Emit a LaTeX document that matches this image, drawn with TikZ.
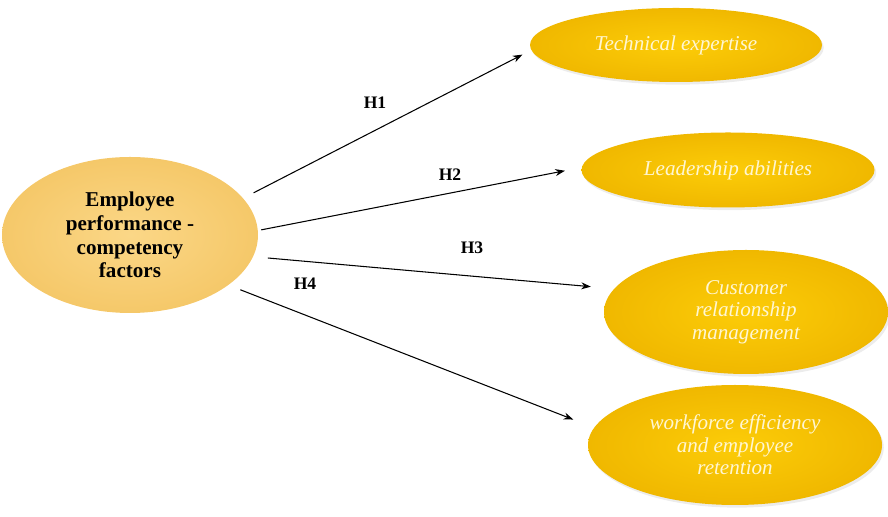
\documentclass[tikz,border=0pt]{standalone}
\usepackage{fontspec}
\setmainfont{Liberation Serif}
\usetikzlibrary{arrows.meta,shapes.geometric,shadows}
\definecolor{coreyellow}{RGB}{251,215,135}
\definecolor{corerim}{RGB}{245,200,105}
\definecolor{goldin}{RGB}{252,204,8}
\definecolor{goldout}{RGB}{240,184,0}
\definecolor{paletext}{RGB}{255,246,210}
\begin{document}
\begin{tikzpicture}[
    core/.style={ellipse, inner color=coreyellow, outer color=corerim, outer sep=0pt,
        align=center, font=\fontsize{12}{13.5}\selectfont\bfseries},
    goal/.style={ellipse, inner color=goldin, outer color=goldout, outer sep=0pt,
        align=center, text=paletext, font=\fontsize{12}{12.8}\selectfont\itshape,
        drop shadow={opacity=0.15, shadow xshift=1pt, shadow yshift=-1.5pt}},
    hyp/.style={font=\fontsize{10}{12}\selectfont\bfseries},
    link/.style={-{Stealth[length=5.5pt,width=4pt]}, line width=0.6pt}
]
            \useasboundingbox (0,0) rectangle (17.76,10.34);

            \node (v0) at (2.6,5.64) [core, minimum width=5.12cm, minimum height=3.12cm]
                {Employee\\performance -\\competency\\factors};

            \node (v1) at (13.52,9.44) [goal, minimum width=5.84cm, minimum height=1.48cm] {Technical expertise};
            \node (v2) at (14.56,6.94) [goal, minimum width=5.86cm, minimum height=1.5cm] {Leadership abilities};
            \node (v3) at (14.92,4.10) [goal, minimum width=5.68cm, minimum height=2.48cm]
                {Customer\\relationship\\management};
            \node (v4) at (14.70,1.44) [goal, minimum width=5.88cm, minimum height=2.4cm]
                {workforce efficiency\\and employee\\retention};

            \draw[link, shorten <=6.8pt, shorten >=5.7pt] (v0.18) -- (v1.182);
            \draw[link, shorten <=2pt, shorten >=9.8pt] (v0.2) -- (v2.179);
            \draw[link, shorten <=8.5pt, shorten >=13.4pt] (v0.-10) -- (v3.170);
            \draw[link, shorten <=7.4pt, shorten >=12.8pt] (v0.-27) -- (v4.173);

            \node (h1) at (7.5,8.28) [hyp] {H1};
            \node (h2) at (9.0,6.84) [hyp] {H2};
            \node (h3) at (9.44,5.38) [hyp] {H3};
            \node (h4) at (6.1,4.66) [hyp] {H4};

        \end{tikzpicture}
\end{document}
